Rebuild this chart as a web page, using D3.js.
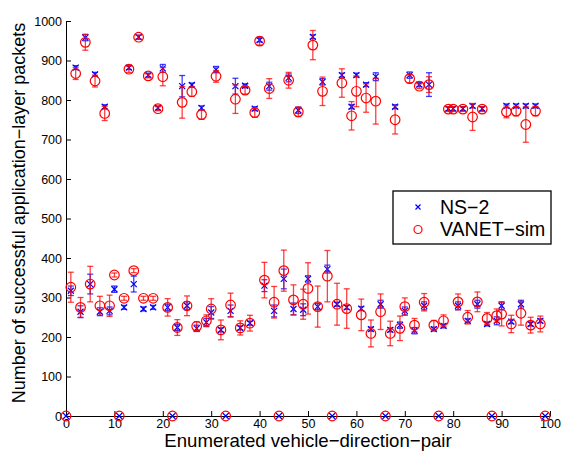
<!DOCTYPE html>
<html>
<head>
<meta charset="utf-8">
<script src="https://cdn.jsdelivr.net/npm/d3@7"></script>
<style>
  body { margin: 0; background: #fff; }
  svg { display: block; font-family: "Liberation Sans", Arial, Helvetica, sans-serif; }
  .axis text { font-size: 12.5px; fill: #000; }
  .axis path, .axis line { stroke: #000; stroke-width: 1; }
</style>
</head>
<body>
<svg id="chart" width="567" height="456"></svg>
<script>
// ---- data: one value per enumerated vehicle-direction pair (0..99) ----
const nsValues = [
  0, 317, 882, 264, 958, 334, 865, 264, 783, 266,
  321, 0, 275, 882, 334, 959, 271, 863, 275, 780,
  880, 275, 0, 224, 835, 279, 838, 222, 780, 237,
  262, 877, 218, 0, 266, 835, 223, 836, 235, 778,
  952, 330, 835, 266, 0, 347, 856, 271, 774, 269,
  347, 960, 277, 846, 372, 0, 283, 863, 275, 783,
  863, 272, 839, 220, 859, 283, 0, 218, 783, 230,
  266, 863, 216, 839, 279, 839, 220, 0, 228, 778,
  778, 279, 778, 241, 785, 283, 778, 233, 0, 241,
  279, 785, 239, 785, 283, 785, 233, 785, 241, 0
];
const nsErrors = [
  0, 12, 5, 15, 8, 25, 5, 10, 5, 10,
  8, 0, 5, 5, 20, 5, 5, 5, 5, 5,
  10, 8, 0, 8, 27, 10, 5, 8, 5, 10,
  15, 8, 5, 0, 15, 20, 5, 5, 5, 5,
  5, 15, 10, 15, 0, 25, 10, 15, 8, 15,
  8, 5, 8, 8, 10, 0, 5, 5, 5, 5,
  5, 5, 5, 5, 10, 10, 0, 5, 5, 8,
  10, 8, 8, 5, 10, 30, 5, 0, 5, 5,
  5, 10, 5, 5, 5, 10, 5, 5, 0, 10,
  10, 5, 5, 5, 10, 5, 5, 5, 5, 0
];
const vsValues = [
  0, 326, 867, 275, 946, 334, 848, 279, 766, 279,
  357, 0, 298, 878, 368, 959, 298, 861, 298, 778,
  859, 275, 0, 224, 794, 279, 821, 227, 763, 241,
  271, 860, 218, 0, 281, 802, 223, 825, 235, 768,
  949, 344, 829, 288, 0, 368, 850, 294, 770, 283,
  323, 939, 277, 822, 354, 0, 283, 843, 272, 760,
  822, 256, 805, 209, 797, 264, 0, 209, 750, 222,
  277, 854, 230, 835, 288, 839, 230, 0, 241, 777,
  777, 289, 777, 250, 757, 289, 777, 247, 0, 254,
  258, 770, 233, 772, 260, 738, 230, 772, 233, 0
];
const vsErrors = [
  0, 38, 15, 25, 20, 45, 15, 24, 18, 27,
  5, 0, 5, 8, 5, 5, 5, 5, 5, 5,
  23, 22, 0, 20, 40, 25, 12, 12, 12, 15,
  26, 15, 25, 0, 30, 36, 18, 10, 20, 12,
  10, 45, 25, 40, 0, 52, 20, 38, 12, 38,
  65, 37, 52, 36, 65, 0, 53, 36, 50, 36,
  39, 40, 36, 34, 58, 45, 0, 31, 36, 31,
  22, 10, 17, 6, 22, 20, 12, 0, 15, 6,
  6, 20, 6, 17, 34, 25, 6, 15, 0, 17,
  30, 15, 22, 12, 30, 45, 20, 12, 20, 0
];
const xTicks = d3.range(0, 101, 10);
const yTicks = d3.range(0, 1001, 100);
const seriesNames = ["NS\u22122", "VANET\u2212sim"];

const svg = d3.select("#chart");
const margin = { left: 66, right: 17, top: 21, bottom: 40 };
const W = 567, H = 456;

const x = d3.scaleLinear().domain([0, 100]).range([margin.left, W - margin.right]);
const y = d3.scaleLinear().domain([0, 1000]).range([H - margin.bottom, margin.top]);

// axes (MATLAB style: inward ticks, no box)
svg.append("g")
    .attr("class", "axis")
    .attr("transform", `translate(0,${y(0)})`)
    .call(d3.axisBottom(x).tickValues(xTicks).tickSize(-5).tickSizeOuter(0).tickPadding(3));

svg.append("g")
    .attr("class", "axis")
    .attr("transform", `translate(${x(0)},0)`)
    .call(d3.axisLeft(y).tickValues(yTicks).tickFormat(d3.format("d"))
        .tickSize(-5).tickSizeOuter(0).tickPadding(4));

// axis labels
svg.append("text")
    .attr("x", x(50))
    .attr("y", 447)
    .attr("text-anchor", "middle")
    .style("font-size", "18.6px")
    .text("Enumerated vehicle\u2212direction\u2212pair");

svg.append("text")
    .attr("transform", `translate(25,213) rotate(-90)`)
    .attr("text-anchor", "middle")
    .style("font-size", "18px")
    .text("Number of successful application\u2212layer packets");

const data = d3.range(100).map(i => ({
    i: i,
    ns: nsValues[i], nsErr: nsErrors[i],
    vs: vsValues[i], vsErr: vsErrors[i]
}));

const capW = 3;

function drawErrorBars(g, key, errKey, color) {
    const bars = g.selectAll("g").data(data.filter(d => d[errKey] > 0)).join("g")
        .attr("stroke", color)
        .attr("stroke-opacity", 0.75)
        .attr("stroke-width", 1.3);
    bars.append("line")
        .attr("x1", d => x(d.i)).attr("x2", d => x(d.i))
        .attr("y1", d => y(d[key] - d[errKey])).attr("y2", d => y(d[key] + d[errKey]));
    bars.append("line")
        .attr("x1", d => x(d.i) - capW).attr("x2", d => x(d.i) + capW)
        .attr("y1", d => y(d[key] - d[errKey])).attr("y2", d => y(d[key] - d[errKey]));
    bars.append("line")
        .attr("x1", d => x(d.i) - capW).attr("x2", d => x(d.i) + capW)
        .attr("y1", d => y(d[key] + d[errKey])).attr("y2", d => y(d[key] + d[errKey]));
}

function crossPath(cx, cy, s) {
    return `M${cx - s},${cy - s}L${cx + s},${cy + s}M${cx - s},${cy + s}L${cx + s},${cy - s}`;
}

// NS-2 (blue crosses)
const nsG = svg.append("g");
drawErrorBars(nsG.append("g"), "ns", "nsErr", "#0000ff");
nsG.append("g").selectAll("path").data(data).join("path")
    .attr("d", d => crossPath(x(d.i), y(d.ns), 3))
    .attr("stroke", "#0000ff")
    .attr("stroke-width", 1.2)
    .attr("fill", "none");

// VANET-sim (red circles)
const vsG = svg.append("g");
drawErrorBars(vsG.append("g"), "vs", "vsErr", "#ff0000");
vsG.append("g").selectAll("circle").data(data).join("circle")
    .attr("cx", d => x(d.i))
    .attr("cy", d => y(d.vs))
    .attr("r", 4.8)
    .attr("stroke", "#ff0000")
    .attr("stroke-width", 1.2)
    .attr("fill", "none");

// legend
const legend = svg.append("g").attr("transform", "translate(393,191)");
legend.append("rect")
    .attr("width", 158).attr("height", 53)
    .attr("fill", "#fff")
    .attr("stroke", "#000")
    .attr("stroke-width", 1.3);
legend.append("path")
    .attr("d", crossPath(25, 16, 2.5))
    .attr("stroke", "#0000ff").attr("stroke-width", 1.2);
legend.append("circle")
    .attr("cx", 25).attr("cy", 38.5).attr("r", 4)
    .attr("stroke", "#ff0000").attr("stroke-width", 1.2).attr("fill", "none");
legend.selectAll("text").data(seriesNames).join("text")
    .attr("x", 47)
    .attr("y", (d, i) => 22.5 + i * 22.5)
    .style("font-size", "19.5px")
    .text(d => d);
</script>
</body>
</html>
